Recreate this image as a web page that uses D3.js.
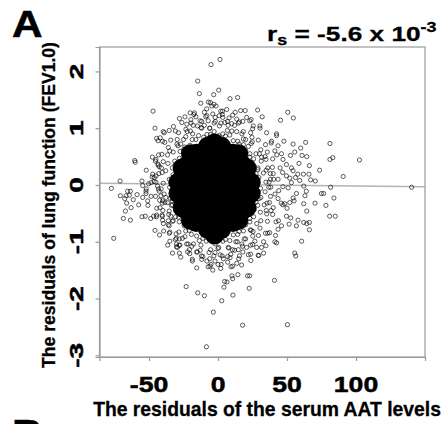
<!DOCTYPE html>
<html>
<head>
<meta charset="utf-8">
<script src="https://d3js.org/d3.v7.min.js"></script>
<style>
  html, body { margin: 0; padding: 0; background: #fff; }
  svg { display: block; }
  text { font-family: "Liberation Sans", Arial, sans-serif; font-weight: bold; fill: #000; }
</style>
</head>
<body>
<div id="chart"></div>
<script>
"use strict";

var xTicks = [-50, 0, 50, 100];
var yTicks = [-3, -2, -1, 0, 1, 2];
var xTitle = "The residuals of the serum AAT levels";
var yTitle = "The residuals of lung function (FEV1.0)";

// fitted line: y = intercept + slope * x
var fitIntercept = 0.008;
var fitSlope = -0.000255;

// centre of the cloud, where the rings overlap into solid black
var denseCore = [
    [-26.4, -0.04], [-16.4, -0.07], [-6.4, -0.03], [3.7, -0.06], [13.7, -0.04], [21.4, -0.05],
    [-25.5, 0.14], [-15.4, 0.16], [-5.3, 0.15], [4.9, 0.13], [14.5, 0.16], [20.5, 0.15],
    [-25.5, -0.25], [-15.4, -0.24], [-5.3, -0.26], [4.9, -0.25], [14.5, -0.23], [20.5, -0.26],
    [-22.3, 0.35], [-12.2, 0.36], [-2.5, 0.35], [7.6, 0.35], [17.3, 0.36],
    [-22.3, -0.45], [-12.2, -0.46], [-2.5, -0.44], [7.6, -0.45], [17.3, -0.46],
    [-15.8, 0.56], [-6.6, 0.55], [2.6, 0.57], [10.8, 0.56],
    [-15.8, -0.66], [-6.6, -0.65], [2.6, -0.67], [10.8, -0.66],
    [-7.6, 0.68], [2.6, 0.68], [-7.6, -0.78], [2.6, -0.78],
    [-29, 0.05], [-29, -0.15], [24, 0.05], [24, -0.15], [-2.5, 0.74], [-2.5, -0.88],
    [-26, 0.3], [-26, -0.4], [21, 0.3], [21, -0.4], [-20, 0.55], [-20, -0.62], [15, 0.55], [15, -0.62]
];

// edge of the cloud
var haloPoints = [
    [28.9, 0.03], [27.6, 0.2], [26.3, 0.33], [23, 0.49], [20.1, 0.6], [15.3, 0.72], [11.1, 0.78], [5.4, 0.86], [0.5, 0.87],
    [-5.5, 0.89], [-10.4, 0.84], [-16.1, 0.8], [-20.3, 0.7], [-25.1, 0.62], [-28, 0.47], [-31.3, 0.35], [-32.6, 0.18], [-34.2, 0.04],
    [-33.6, -0.14], [-33.2, -0.28], [-30.7, -0.45], [-28.6, -0.57], [-24.5, -0.72], [-20.9, -0.8], [-15.5, -0.9], [-11, -0.94],
    [-4.9, -0.99], [0.5, -0.97], [5.4, -0.96], [11.1, -0.88], [15.3, -0.82], [20.1, -0.7], [23, -0.59], [26.3, -0.43], [27.6, -0.3], [29.2, -0.12],
    [30.8, -0.06], [29.6, 0.13], [28.9, 0.27], [25.8, 0.46], [23.1, 0.55], [18.4, 0.71], [14.3, 0.77], [8.5, 0.88], [3.5, 0.9], [-2.8, 0.94],
    [-8, 0.89], [-14.1, 0.87], [-18.7, 0.8], [-24, 0.67], [-27.5, 0.59], [-31.4, 0.42], [-33.2, 0.3], [-35.3, 0.1], [-35.1, -0.04],
    [-34.7, -0.23], [-33.8, -0.36], [-30.8, -0.56], [-28.1, -0.65], [-23.4, -0.81], [-19.3, -0.87], [-13.5, -0.98], [-8.5, -0.99], [-2.2, -1.04],
    [3.5, -0.99], [8.5, -0.98], [14.3, -0.87], [18.4, -0.81], [23.1, -0.65], [25.8, -0.56], [28.8, -0.36], [29.7, -0.24],
    [34.7, 0.05], [32.9, 0.21], [31.3, 0.42], [27.5, 0.55], [24, 0.73], [18.4, 0.81], [13.5, 0.94], [6.8, 0.96], [1, 1.04],
    [-6, 1], [-11.8, 1], [-18.4, 0.9], [-23.4, 0.85], [-29, 0.69], [-32.5, 0.58], [-36.3, 0.38], [-37.9, 0.25], [-39.7, 0.03],
    [-39.1, -0.16], [-38.5, -0.31], [-35.7, -0.52], [-33.1, -0.64], [-28.4, -0.83], [-24, -0.91], [-17.8, -1.04], [-12.4, -1.06],
    [-5.4, -1.14], [0.4, -1.1], [7.4, -1.1], [12.9, -1], [19, -0.95], [23.4, -0.79], [28.1, -0.68], [30.7, -0.48], [33.5, -0.35], [34.1, -0.12],
    [36.8, -0.04], [34.9, 0.26], [31.6, 0.49], [24.8, 0.76], [17.3, 0.9], [7.3, 1.05], [-2.8, 1.09], [-12.3, 1.01], [-22.3, 0.94],
    [-29.8, 0.72], [-36.6, 0.53], [-40.5, 0.22], [-41.2, -0.07], [-40.5, -0.32], [-36, -0.63], [-30.4, -0.86], [-21.7, -1.04],
    [-12.9, -1.15], [-2.2, -1.19], [7.9, -1.11], [17.3, -1.04], [25.4, -0.82], [31, -0.63], [35.5, -0.32],
    [38.2, -0.04], [37.9, 0.2], [34.7, 0.45], [31, 0.62], [24.6, 0.84], [18.3, 0.94], [9.9, 1.08], [2.1, 1.09],
    [-7.1, 1.13], [-14.9, 1.04], [-23.3, 0.98], [-29.6, 0.8], [-36, 0.66], [-39.7, 0.41], [-42.9, 0.2], [-43.2, -0.07],
    [-42.3, -0.27], [-40.3, -0.55], [-35.4, -0.72], [-30.2, -0.94], [-22.7, -1.04], [-15.5, -1.18], [-6.5, -1.19], [1.5, -1.23],
    [10.5, -1.14], [17.7, -1.08], [25.2, -0.9], [30.4, -0.76], [35.3, -0.51], [37.3, -0.31],
    [40.3, 0.1], [39.4, 0.31], [35.7, 0.58], [29.2, 0.79], [23.6, 0.92], [14.8, 1.09], [6.9, 1.12], [-2.1, 1.19],
    [-11.9, 1.12], [-19.6, 1.09], [-28.6, 0.92], [-34.3, 0.79], [-40.7, 0.54], [-43.4, 0.35], [-46.3, 0.06],
    [-45.3, -0.2], [-44.4, -0.41], [-39.6, -0.68], [-35.3, -0.85], [-27.6, -1.06], [-20.7, -1.14], [-11, -1.26], [-3, -1.25],
    [7, -1.26], [14.7, -1.14], [23.6, -1.06], [29.3, -0.89], [35.8, -0.64], [38.4, -0.45], [41.3, -0.16],
    [43.5, 0.1], [39.6, 0.46], [34.4, 0.71], [25.1, 0.99], [15.5, 1.11], [3.1, 1.24], [-8.9, 1.2], [-19.7, 1.15], [-30.9, 0.95],
    [-38.6, 0.75], [-45.4, 0.42], [-47.7, 0.14], [-48.5, -0.2], [-44.6, -0.56], [-39.4, -0.81], [-30.1, -1.09], [-20.5, -1.21],
    [-8.1, -1.34], [3.9, -1.3], [15.5, -1.25], [25.1, -1.05], [34.4, -0.85], [39.6, -0.52], [43.5, -0.24],
    [47, -0.03], [46.8, 0.22], [42.6, 0.53], [38.5, 0.74], [30.4, 1], [23, 1.13], [12.4, 1.28], [3.3, 1.3],
    [-8.2, 1.34], [-17.5, 1.24], [-28, 1.17], [-35.4, 0.96], [-43.5, 0.78], [-47.6, 0.49], [-52, 0.26], [-52, -0.07],
    [-50.8, -0.36], [-48.8, -0.59], [-42.4, -0.88], [-36.5, -1.06], [-27, -1.27], [-18.6, -1.34], [-7.1, -1.44], [2.3, -1.4],
    [13.6, -1.38], [22, -1.23], [31.5, -1.1], [37.4, -0.84], [43.8, -0.63], [45.8, -0.32],
    [10, 0.95], [-20, 0.95], [-35, 0.6], [30, 0.55], [-40, -0.45], [35, -0.45], [0, -1.12], [-28, -0.95], [20, -0.95], [-45, 0.05],
    [40, 0.2], [5, 1.1], [-10, 1.05], [-25, 0.8], [20, 0.8], [-36, -0.7], [24, -0.8], [-15, -1.18], [12, -1.15], [37, 0.05],
    [-41, 0.3], [29, 0.3], [-33, -0.35], [31, -0.22], [-6, 1], [14, -1], [-19, -1.08], [22, 0.68], [-27, 0.72],
    [36, 0.3], [38, -0.2], [40, -0.4], [34, 0.5], [45, 0.3], [44, -0.1], [46, 0.55], [38, 0.1], [42, -0.65], [36, -0.85],
    [33, -1], [47, -0.35], [-28, -1.2], [-22, -1.18], [-12, -1.25], [-6, -1.3], [3, -1.25], [7, -1.36], [15, -1.3], [18, -1.18],
    [28, -1.1], [33, -1.2], [-33, -1.2], [0, -1.4], [-16, 1.2], [-8, 1.22], [2, 1.3], [8, 1.18], [18, 1.12], [24, 1.15],
    [-24, 1.2], [-18, 1.05], [12, 1.05], [-2, 1.12]
];

// scattered points outside the cloud
var outlierPoints = [
    [1.4, 2.21], [-5.1, 2.12], [-14.7, 1.83], [-13.5, 1.61], [-3.1, 1.59], [0.5, 1.67], [8.7, 1.52], [14.2, 1.54], [-47.1, 1.3],
    [-45.7, 1], [-39.7, 0.94], [28.7, 1.32], [50.5, 1.28], [54.6, 1.18], [45.3, 1.14], [32, 1.2], [-12.5, 1.44], [-7, 1.46],
    [-4.5, 1.39], [-1.4, 1.39], [6.3, 1.33], [19.7, 1.31], [16.4, 1.31], [-20.2, 1.27], [-17.1, 1.27], [-9.9, 1.28], [-3.8, 1.25],
    [0.9, 1.22], [3.4, 1.19], [10.6, 1.23], [13.5, 1.16], [20.7, 1.19], [-26.2, 1.1], [-32.3, 1.03], [-22.6, 1.07], [-13, 1.13],
    [25.5, 1.04], [35.2, 0.92], [42.4, 0.9], [-41.9, 0.83], [-5.5, 1.45], [-3, 1.42],
    [-60.4, 0.43], [-60, 0.4], [-77.3, -0.06], [-71, 0.07], [-75.6, -0.94], [-55.1, 0.07], [-50.3, 0.02], [-48.6, 0.04],
    [-54.6, -0.01], [-65.5, -0.11], [-63.5, -0.11], [-66.6, -0.19], [-64.3, -0.18], [-70.8, -0.19], [-67.6, -0.24], [-61.4, -0.26],
    [-58.7, -0.17], [-54.6, -0.22], [-52.2, -0.15], [-66.2, -0.32], [-63, -0.4], [-57.5, -0.35], [-51, -0.28], [-67.1, -0.46],
    [-68.6, -0.59], [-63.5, -0.62], [-55.1, -0.56], [-52.7, -0.55], [-46.7, -0.55], [-44.5, -0.53], [-40.6, -0.53], [-40.2, -0.62],
    [-45.7, -0.8], [-34.9, -0.83], [-34.9, -0.99], [-30.1, -1.04], [-29.4, -1.1], [-28.2, -1.06], [-31, -0.96], [-25.8, -0.94],
    [-43.1, 0.53], [-45, 0.45], [-43.5, 0.37], [-42.6, 0.32], [-44.5, 0.82], [-40.2, 0.77], [-39, 0.92], [-47.4, 0.19],
    [-46.2, 0.13], [-45, 0.16], [-52.2, -0.11], [-43.8, -0.02], [-42.6, -0.11], [-41.4, -0.19], [-40.2, -0.28], [-42.1, -0.4],
    [-37.8, -0.22], [-36.6, -0.31], [-35.4, -0.46], [-34.2, -0.55], [-32.5, -0.63],
    [140.3, -0.04], [102.5, 0.44], [90.7, 0.15], [81.1, 0.73], [81.1, 0.45], [83.2, 0.48], [81.6, -0.04], [84, -0.23],
    [80.9, -0.55], [85, -0.55], [74.9, -0.15], [76.5, -0.15], [78.2, -0.36], [70.3, -0.32], [73.6, 0.26], [63.5, 0.75],
    [54.4, 0.72], [59.9, 0.65], [55.6, 0.58], [60.9, 0.52], [64.3, 0.5], [52.5, 0.52], [66.2, 0.34], [58.7, 0.38], [57.8, 0.19],
    [61.9, 0.19], [65.9, 0.19], [56.1, 0.13], [59.2, 0.08], [67.1, 0.09], [70.5, 0.07], [62.1, -0.02], [64, -0.11], [63, -0.19],
    [62.1, -0.33], [64.3, -0.46], [58, -0.62], [62.1, -0.66], [64.3, -0.68], [66.2, -0.66], [66.2, -0.79], [56.8, -0.72],
    [51.5, -0.69], [60.6, -0.99], [55.6, -1.2], [56.3, -1.25], [41.7, -0.89], [42.4, -1.02], [34.7, -1.07], [29.6, -1.24],
    [48.4, -0.33], [50, -0.41], [52, -0.31], [55.1, -0.28], [49.6, -0.55], [52.7, -0.58], [46, -0.72], [43.5, -0.78],
    [56.8, -0.15], [54.4, -0.23], [53.2, 0.04], [50.8, -0.05], [49.6, 0.16], [52, 0.12], [54.4, 0.25], [47.1, 0.45], [49.6, 0.36],
    [53.2, 0.3], [47.7, 0.77], [42.4, 0.87], [30.3, 1.04], [41.2, 0.6], [43.5, 0.69], [38.8, 0.77],
    [-8.4, -2.85], [-3.4, -2.24], [17.8, -2.47], [50.3, -2.46], [2.7, -2.04], [10.8, -1.94], [-9.9, -1.95], [-14.7, -1.9],
    [-23.1, -1.79], [4.3, -1.8], [4.8, -1.7], [6.5, -1.71], [10.1, -1.6], [10.6, -1.65], [14.4, -1.58], [21.4, -1.6], [22.9, -1.6],
    [22.6, -1.82], [40.9, -1.68], [-15.4, -1.46], [-18.6, -1.31], [-11.8, -1.31], [-5.8, -1.43], [-3.8, -1.5], [1.9, -1.47],
    [9.4, -1.44], [10.6, -1.43], [17.1, -1.41], [23.8, -1.33], [29.1, -1.24], [41.2, -1], [-2.2, -1.34], [-5.1, -1.4], [8.7, -1.28],
    [9.2, -1.22], [23.6, -1.22], [20.7, -1.1], [26.7, -0.99]
];

var width = 446, height = 424;
var box = {left: 99.5, right: 425, top: 47, bottom: 357};

var svg = d3.select("#chart").append("svg")
    .attr("width", width)
    .attr("height", height);

var x = d3.scaleLinear().domain([-85.9, 150]).range([box.left, box.right]);
var y = d3.scaleLinear().domain([-3.03, 2.43]).range([box.bottom, box.top]);

// fitted line, under the points
var xd = x.domain();
svg.append("line")
    .attr("x1", x(xd[0])).attr("y1", y(fitIntercept + fitSlope * xd[0]))
    .attr("x2", x(xd[1])).attr("y2", y(fitIntercept + fitSlope * xd[1]))
    .attr("stroke", "#b4b4b4")
    .attr("stroke-width", 1.5);

// points
var plot = svg.append("g");

plot.selectAll("circle.core")
    .data(denseCore)
    .enter().append("circle")
    .attr("class", "core")
    .attr("cx", function (d) { return x(d[0]); })
    .attr("cy", function (d) { return y(d[1]); })
    .attr("r", 9.5)
    .attr("fill", "#000");

plot.selectAll("circle.pt")
    .data(haloPoints.concat(outlierPoints))
    .enter().append("circle")
    .attr("class", "pt")
    .attr("cx", function (d) { return x(d[0]); })
    .attr("cy", function (d) { return y(d[1]); })
    .attr("r", 2.1)
    .attr("fill", "none")
    .attr("stroke", "#000")
    .attr("stroke-opacity", 0.75)
    .attr("stroke-width", 0.85);

// box
svg.append("rect")
    .attr("x", box.left).attr("y", box.top)
    .attr("width", box.right - box.left).attr("height", box.bottom - box.top)
    .attr("fill", "none")
    .attr("stroke", "#9a9a9a")
    .attr("stroke-width", 1.2);

// axes
var xAxis = svg.append("g")
    .attr("transform", "translate(0," + box.bottom + ")")
    .call(d3.axisBottom(x).tickValues(xTicks).tickSize(4).tickFormat(""));
var yAxis = svg.append("g")
    .attr("transform", "translate(" + box.left + ",0)")
    .call(d3.axisLeft(y).tickValues(yTicks).tickSize(4).tickFormat(""));
[xAxis, yAxis].forEach(function (a) {
    a.select(".domain").attr("stroke", "#9a9a9a").attr("stroke-width", 1.2);
    a.selectAll(".tick line").attr("stroke", "#9a9a9a").attr("stroke-width", 1.2);
});

// tick labels
svg.selectAll("text.xt")
    .data(xTicks)
    .enter().append("text")
    .attr("class", "xt")
    .attr("transform", function (d) { return "translate(" + x(d) + ",392) scale(1.22,1)"; })
    .attr("text-anchor", "middle")
    .style("font-size", "21.8px")
    .style("stroke", "#000").style("stroke-width", 0.5)
    .text(function (d) { return d; });

svg.selectAll("text.yt")
    .data(yTicks)
    .enter().append("text")
    .attr("class", "yt")
    .attr("transform", function (d) { return "translate(83," + y(d) + ") rotate(-90) scale(1.5,1)"; })
    .attr("text-anchor", "middle")
    .style("font-size", "18.7px")
    .style("stroke", "#000").style("stroke-width", 0.5)
    .text(function (d) { return d; });

// axis titles
svg.append("text")
    .attr("transform", "translate(267,416) scale(0.943,1)")
    .attr("text-anchor", "middle")
    .style("font-size", "20.5px")
    .style("stroke", "#000").style("stroke-width", 0.3)
    .text(xTitle);

svg.append("text")
    .attr("transform", "translate(55,205) rotate(-90) scale(0.95,1)")
    .attr("text-anchor", "middle")
    .style("font-size", "18.5px")
    .style("stroke", "#000").style("stroke-width", 0.3)
    .text(yTitle);

// panel letters and correlation
svg.append("text")
    .attr("transform", "translate(12,37) scale(1.12,1)")
    .style("font-size", "37.7px")
    .style("stroke", "#000").style("stroke-width", 0.6)
    .text("A");

svg.append("text")
    .attr("transform", "translate(12,446) scale(1.12,1)")
    .style("font-size", "37.7px")
    .style("stroke", "#000").style("stroke-width", 0.6)
    .text("B");

var rs = svg.append("text")
    .attr("transform", "translate(267,40.5) scale(1.28,1)")
    .style("font-size", "20.5px")
    .style("stroke", "#000").style("stroke-width", 0.3);
rs.append("tspan").text("r");
rs.append("tspan").attr("dy", 4).style("font-size", "14px").text("s");
rs.append("tspan").attr("dy", -4).text(" = -5.6 x 10");
rs.append("tspan").attr("dy", -9).style("font-size", "14px").text("-3");
</script>
</body>
</html>
